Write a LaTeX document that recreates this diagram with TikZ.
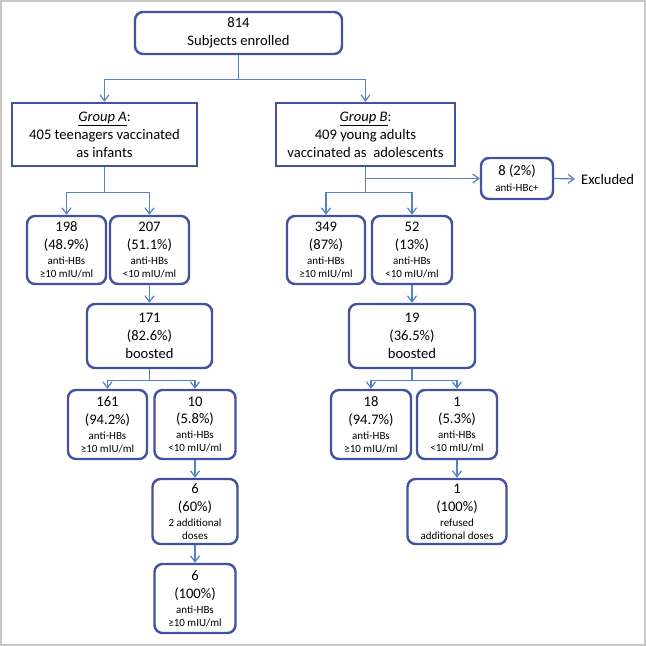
\documentclass[tikz,border=0pt]{standalone}
\usepackage{fontspec}
\setmainfont{Carlito}
\usetikzlibrary{arrows.meta}
\definecolor{boxc}{RGB}{66,82,160}
\definecolor{linec}{RGB}{84,130,200}
\definecolor{framec}{RGB}{200,200,200}
\newcommand\smf{\fontsize{11}{13}\selectfont}
\begin{document}
\begin{tikzpicture}[x=1pt,y=-1pt,
  box/.style={draw=boxc, line width=2.4pt, rounded corners=8pt, align=center, inner sep=0pt,
    font=\fontsize{14.6}{17.7}\selectfont},
  grp/.style={box, sharp corners, font=\fontsize{14.6}{18}\selectfont},
  conn/.style={draw=linec, line width=1.2pt},
  arr/.style={conn, -{Straight Barb[length=6pt,width=9pt]}}]
\useasboundingbox (0,0) rectangle (646,646);
\fill[white] (0,0) rectangle (646,646);
\draw[framec, line width=2pt] (1,1) rectangle (645,645);

% top
\node[box, minimum width=207pt, minimum height=42pt, font=\fontsize{14.6}{18.3}\selectfont] (top) at (238.5,33) {814\\Subjects enrolled};
% groups
\node[grp, minimum width=185pt, minimum height=63pt] (grpA) at (104.5,134.5)
  {\underline{\textit{Group A}}:\\405 teenagers vaccinated\\as infants};
\node[grp, minimum width=179pt, minimum height=63pt] (grpB) at (365.5,134.5)
  {\underline{\textit{Group B}}:\\409 young adults\\vaccinated as\ \ adolescents};
% excluded
\node[box, minimum width=72pt, minimum height=41pt] (excl) at (517,178.5)
  {8 (2\%)\\[-1.6pt]{\smf anti-HBc+}};
\node[anchor=west, inner sep=0pt, font=\fontsize{14.6}{17.7}\selectfont] (exctext) at (581,179) {Excluded};

% row 2
\node[box, minimum width=79pt, minimum height=68pt] (n198) at (66.5,250)
  {198\\(48.9\%)\\[-2.7pt]{\smf anti-HBs}\\[-4.7pt]{\smf ≥10 mIU/ml}};
\node[box, minimum width=79pt, minimum height=68pt] (n207) at (149.5,250)
  {207\\(51.1\%)\\[-2.7pt]{\smf anti-HBs}\\[-4.7pt]{\smf <10 mIU/ml}};
\node[box, minimum width=78pt, minimum height=68pt] (n349) at (326,250)
  {349\\(87\%)\\[-2.7pt]{\smf anti-HBs}\\[-4.7pt]{\smf ≥10 mIU/ml}};
\node[box, minimum width=80pt, minimum height=68pt] (n52) at (412,250)
  {52\\(13\%)\\[-2.7pt]{\smf anti-HBs}\\[-4.7pt]{\smf <10 mIU/ml}};

% row 3
\node[box, minimum width=125pt, minimum height=64pt] (n171) at (149.5,336)
  {171\\(82.6\%)\\boosted};
\node[box, minimum width=126pt, minimum height=64pt] (n19) at (412,336)
  {19\\(36.5\%)\\boosted};

% row 4
\node[box, minimum width=79pt, minimum height=69pt] (n161) at (107.5,424.5)
  {161\\(94.2\%)\\[-2.7pt]{\smf anti-HBs}\\[-4.7pt]{\smf ≥10 mIU/ml}};
\node[box, minimum width=81pt, minimum height=69pt] (n10) at (195,424.5)
  {10\\(5.8\%)\\[-2.7pt]{\smf anti-HBs}\\[-4.7pt]{\smf <10 mIU/ml}};
\node[box, minimum width=80pt, minimum height=69pt] (n18) at (371,424.5)
  {18\\(94.7\%)\\[-2.7pt]{\smf anti-HBs}\\[-4.7pt]{\smf ≥10 mIU/ml}};
\node[box, minimum width=80pt, minimum height=69pt] (n1) at (457,424.5)
  {1\\(5.3\%)\\[-2.7pt]{\smf anti-HBs}\\[-4.7pt]{\smf <10 mIU/ml}};

% row 5
\node[box, minimum width=85pt, minimum height=65pt] (n6a) at (195,511.5)
  {6\\(60\%)\\[-2.7pt]{\smf 2 additional}\\[-4.7pt]{\smf doses}};
\node[box, minimum width=99pt, minimum height=65pt] (n1r) at (457,511.5)
  {1\\(100\%)\\[-2.7pt]{\smf refused}\\[-4.7pt]{\smf additional doses}};

% row 6
\node[box, minimum width=81pt, minimum height=69pt] (n6b) at (195,598.5)
  {6\\(100\%)\\[-2.7pt]{\smf anti-HBs}\\[-4.7pt]{\smf ≥10 mIU/ml}};

% connectors
\draw[arr] (top.south) -- ++(0,24) -| (grpA.north);
\draw[arr] (top.south) -- ++(0,24) -| (grpB.north);
\draw[arr] (grpA.south) -- ++(0,25) -| (n198.north);
\draw[arr] (grpA.south) -- ++(0,25) -| (n207.north);
\draw[arr] (grpB.south) -- ++(0,25) -| (n349.north);
\draw[arr] (grpB.south) -- ++(0,25) -| (n52.north);
\draw[arr] (grpB.south |- excl.west) -- (excl.west);
\draw[arr] (excl.east) -- ([xshift=-6pt]exctext.west);
\draw[arr] (n207.south) -- (n171.north);
\draw[arr] (n52.south) -- (n19.north);
\draw[arr] (n171.south) -- ++(0,11) -| (n161.north);
\draw[arr] (n171.south) -- ++(0,11) -| (n10.north);
\draw[arr] (n19.south) -- ++(0,11) -| (n18.north);
\draw[arr] (n19.south) -- ++(0,11) -| (n1.north);
\draw[arr] (n10.south) -- (n6a.north);
\draw[arr] (n6a.south) -- (n6b.north);
\draw[arr] (n1.south) -- (n1r.north);
\end{tikzpicture}
\end{document}
